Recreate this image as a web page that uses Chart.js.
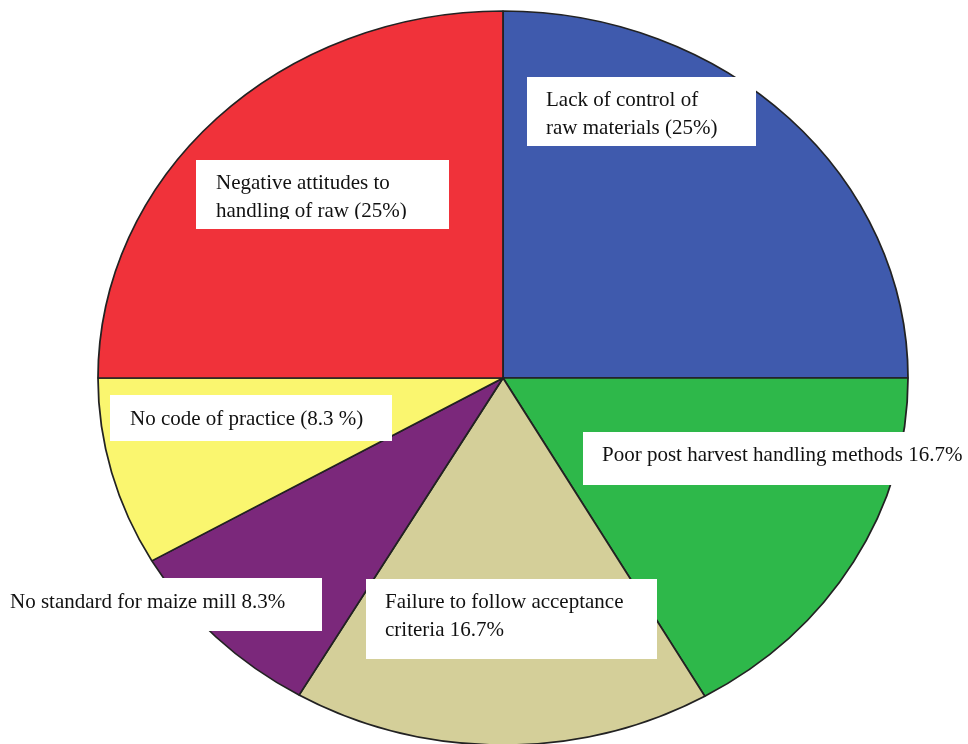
<!DOCTYPE html>
<html>
<head>
<meta charset="utf-8">
<script src="https://cdn.jsdelivr.net/npm/chart.js@4.4.1/dist/chart.umd.min.js"></script>
<style>
  html, body { margin: 0; padding: 0; background: #fff; }
  #wrap { width: 968px; height: 744px; }
</style>
</head>
<body>
<div id="wrap"><canvas id="pie" width="968" height="744"></canvas></div>
<script>
// slices clockwise from 12 o'clock
const categories = [
  'Lack of control of raw materials',
  'Poor post harvest handling methods',
  'Failure to follow acceptance criteria',
  'No standard for maize mill',
  'No code of practice',
  'Negative attitudes to handling of raw'
];
const shares = [25, 16.7, 16.7, 8.3, 8.3, 25];
const labelLines = [
  ['Lack of control of', 'raw materials (25%)'],
  ['Poor post harvest handling methods 16.7%'],
  ['Failure to follow acceptance', 'criteria 16.7%'],
  ['No standard for maize mill 8.3%'],
  ['No code of practice (8.3 %)'],
  ['Negative attitudes to', 'handling of raw (25%)']
];
const colors = ['#3F5AAD', '#2EB84A', '#D4CF99', '#7B287B', '#FAF66F', '#F0323A'];

// label boxes, offsets from pie centre (px): box x/y/w/h, text x, first baseline, clip bottom
const boxLayout = [
  { x: 24,   y: -301, w: 229, h: 69, tx: 43,   ty: -272 },
  { x: 80,   y: 54,   w: 400, h: 53, tx: 99,   ty: 83 },
  { x: -137, y: 201,  w: 291, h: 80, tx: -118, ty: 230 },
  { x: -510, y: 200,  w: 329, h: 53, tx: -493, ty: 230 },
  { x: -393, y: 17,   w: 282, h: 46, tx: -373, ty: 47 },
  { x: -307, y: -218, w: 253, h: 69, tx: -287, ty: -189, clip: -159 }
];
const lineGap = 28;
const xStretch = 405 / 367; // pie is drawn as an ellipse

const stretchPie = {
  id: 'stretchPie',
  beforeDatasetsDraw(chart) {
    const arc = chart.getDatasetMeta(0).data[0];
    const ctx = chart.ctx;
    ctx.save();
    ctx.translate(arc.x, arc.y);
    ctx.scale(xStretch, 1);
    ctx.translate(-arc.x, -arc.y);
  },
  afterDatasetsDraw(chart) {
    chart.ctx.restore();
  }
};

const boxLabels = {
  id: 'boxLabels',
  afterDraw(chart) {
    const arc = chart.getDatasetMeta(0).data[0];
    const ctx = chart.ctx;
    ctx.save();
    ctx.font = '21px "Liberation Serif", "Times New Roman", serif';
    ctx.textBaseline = 'alphabetic';
    boxLayout.forEach((b, i) => {
      ctx.fillStyle = '#ffffff';
      ctx.fillRect(arc.x + b.x, arc.y + b.y, b.w, b.h);
      ctx.save();
      if (b.clip !== undefined) {
        ctx.beginPath();
        ctx.rect(arc.x + b.x, arc.y + b.y, b.w, b.clip - b.y);
        ctx.clip();
      }
      ctx.fillStyle = '#111111';
      labelLines[i].forEach((line, k) => {
        ctx.fillText(line, arc.x + b.tx, arc.y + b.ty + k * lineGap);
      });
      ctx.restore();
    });
    ctx.restore();
  }
};

new Chart(document.getElementById('pie'), {
  type: 'pie',
  data: {
    labels: categories,
    datasets: [{
      data: shares,
      backgroundColor: colors,
      borderColor: '#222222',
      borderWidth: 1.6,
      radius: 367
    }]
  },
  options: {
    responsive: false,
    animation: false,
    layout: { padding: { top: 12, bottom: 0, left: 38, right: 0 } },
    plugins: {
      legend: { display: false },
      tooltip: { enabled: false }
    }
  },
  plugins: [stretchPie, boxLabels]
});
</script>
</body>
</html>
